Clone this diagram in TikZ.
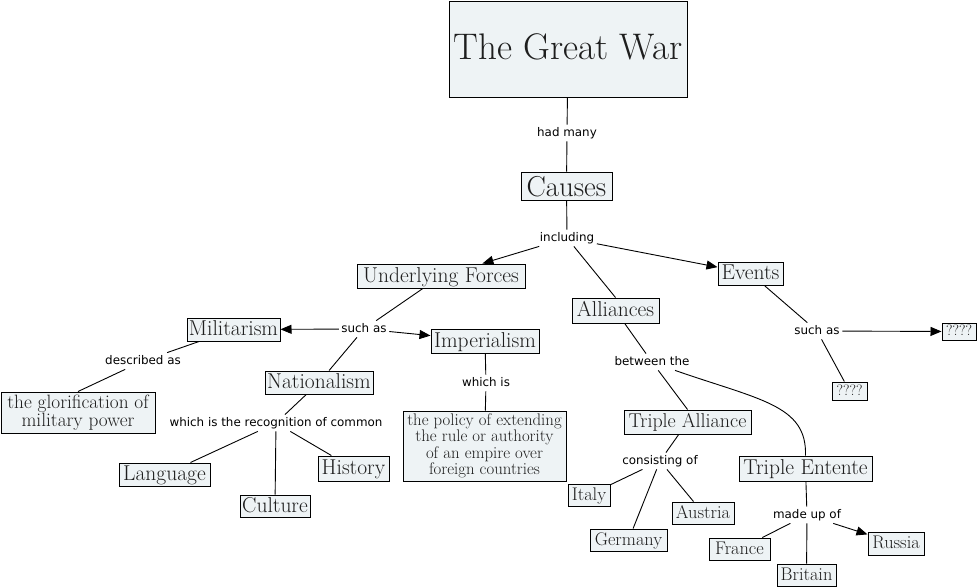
\documentclass[tikz,border=0pt]{standalone}
\usepackage{fontspec}
\newfontfamily\lblfont{DejaVu Sans}
\usetikzlibrary{arrows.meta}
\definecolor{boxfill}{HTML}{EEF3F5}
\definecolor{boxtext}{HTML}{1E1E1E}
\begin{document}
\begin{tikzpicture}[x=1pt,y=-1pt,
  box/.style={draw=black, fill=boxfill, text=boxtext, line width=1pt, inner sep=0pt, align=center},
  fmain/.style={font=\fontsize{21.5}{24}\selectfont, text height=16.1pt, text depth=4.1pt},
  fta/.style={font=\fontsize{20}{23}\selectfont, text height=15pt, text depth=3.8pt},
  fctry/.style={font=\fontsize{18.3}{21}\selectfont, text height=13.7pt, text depth=3.5pt},
  fq/.style={font=\fontsize{15}{17}\selectfont, text height=11.2pt, text depth=2.9pt},
  lbl/.style={font=\lblfont\fontsize{11.9}{13}\selectfont, inner sep=2.5pt, text height=9pt, text depth=2.4pt},
  conn/.style={line width=0.9pt},
  arr/.style={conn, -{Triangle[length=11pt,width=9pt]}},
]
\useasboundingbox (0,0) rectangle (980,587);
\fill[white] (0,0) rectangle (980,587);

% boxes
\node[box, font=\fontsize{37}{42}\selectfont, text height=27.8pt, text depth=7pt, minimum width=238pt, minimum height=96pt] (tgw) at (568,49) {The Great War};
\node[box, font=\fontsize{28.8}{33}\selectfont, text height=24.5pt, text depth=3.2pt, minimum width=91pt, minimum height=28pt] (causes) at (566.5,186) {Causes};
\node[box, fmain, minimum width=168pt, minimum height=24pt] (uf) at (441,276) {Underlying Forces};
\node[box, fmain, minimum width=87pt, minimum height=25pt] (all) at (615.5,310.5) {Alliances};
\node[box, fmain, minimum width=65pt, minimum height=23pt] (ev) at (750.5,273.5) {Events};
\node[box, fmain, minimum width=93pt, minimum height=23pt] (mil) at (233.5,329.5) {Militarism};
\node[box, fmain, minimum width=108pt, minimum height=24pt] (imp) at (485,341) {Imperialism};
\node[box, fmain, minimum width=108pt, minimum height=23pt] (nat) at (319,382.5) {Nationalism};
\node[box, font=\fontsize{19.3}{17.2}\selectfont, minimum width=154pt, minimum height=41pt] (glor) at (78,412.5) {the glorification of\\military power};
\node[box, fmain, minimum width=91pt, minimum height=23pt] (lang) at (164.5,474.5) {Language};
\node[box, fmain, minimum width=70pt, minimum height=22pt] (cult) at (275,506) {Culture};
\node[box, fmain, minimum width=71pt, minimum height=25pt] (hist) at (353.5,468.5) {History};
\node[box, font=\fontsize{16.8}{16.4}\selectfont, minimum width=163pt, minimum height=70pt] (pol) at (484.5,446) {the policy of extending\\the rule or authority\\of an empire over\\foreign countries};
\node[box, fta, minimum width=127pt, minimum height=24pt] (ta) at (687.5,422) {Triple Alliance};
\node[box, fctry, minimum width=42pt, minimum height=22pt] (ita) at (589,495) {Italy};
\node[box, fctry, minimum width=62pt, minimum height=22pt] (aus) at (703,513) {Austria};
\node[box, fctry, minimum width=77pt, minimum height=22pt] (ger) at (628.5,540) {Germany};
\node[box, fmain, minimum width=133pt, minimum height=25pt] (te) at (805.5,468.5) {Triple Entente};
\node[box, fctry, minimum width=61pt, minimum height=22pt] (fra) at (739.5,549) {France};
\node[box, fctry, minimum width=56pt, minimum height=23pt] (rus) at (896,543.5) {Russia};
\node[box, fctry, minimum width=59pt, minimum height=22pt] (bri) at (806.5,575) {Britain};
\node[box, fq, minimum width=34pt, minimum height=17pt] (q1) at (959,331.5) {????};
\node[box, fq, minimum width=35pt, minimum height=18pt] (q2) at (849.5,391) {????};

% labels
\node[lbl] (hm) at (567,133) {had many};
\node[lbl] (incl) at (567,238) {including};
\node[lbl] (sa1) at (364,329) {such as};
\node[lbl] (desc) at (143,361) {described as};
\node[lbl] (recog) at (276,423) {which is the recognition of common};
\node[lbl] (wi) at (486,383) {which is};
\node[lbl] (betw) at (652,362) {between the};
\node[lbl] (cons) at (660,461) {consisting of};
\node[lbl] (mu) at (807,515) {made up of};
\node[lbl] (sa2) at (817,331) {such as};

% connectors
\draw[conn] (tgw) -- (hm);
\draw[conn] (hm) -- (causes);
\draw[conn] (causes) -- (incl);
\draw[arr] (incl) -- (uf);
\draw[conn] (incl) -- (all.north);
\draw[arr] (incl) -- (ev);
\draw[conn] (uf) -- (sa1);
\draw[arr] (sa1) -- (mil);
\draw[arr] (sa1) -- (imp);
\draw[conn] (sa1) -- (nat);
\draw[conn] (mil) -- (desc);
\draw[conn] (desc) -- (glor.north);
\draw[conn] (nat) -- (recog);
\draw[conn] (recog) -- (lang);
\draw[conn] (recog) -- (cult);
\draw[conn] (recog) -- (hist);
\draw[conn] (imp) -- (wi);
\draw[conn] (wi) -- (pol);
\draw[conn] (all) -- (betw);
\draw[conn] (betw) -- (ta.north);
\draw[conn] (betw.-20) .. controls (760,400) and (807,405) .. (te.north);
\draw[conn] (ta) -- (cons);
\draw[conn] (cons) -- (ita);
\draw[conn] (cons) -- (ger);
\draw[conn] (cons) -- (aus);
\draw[conn] (te) -- (mu);
\draw[conn] (mu) -- (fra);
\draw[conn] (mu) -- (bri);
\draw[arr] (mu) -- (rus);
\draw[conn] (ev) -- (sa2);
\draw[arr] (sa2) -- (q1);
\draw[conn] (sa2) -- (q2);
\end{tikzpicture}
\end{document}
